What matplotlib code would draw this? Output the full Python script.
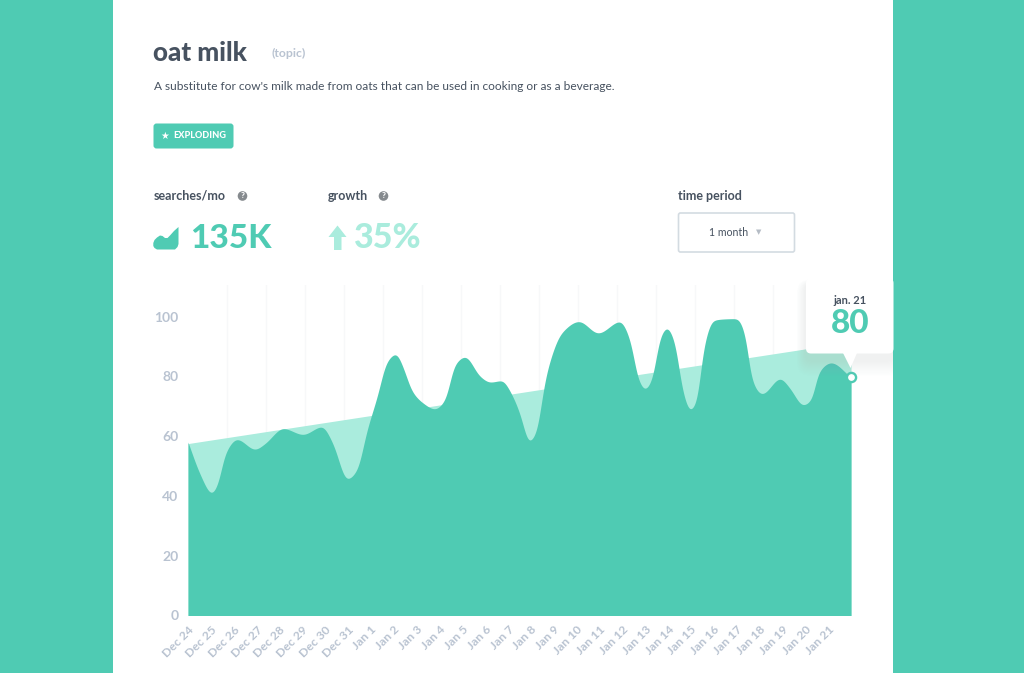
import numpy as np
import matplotlib
matplotlib.use("Agg")
import matplotlib.pyplot as plt
from matplotlib.patches import FancyBboxPatch, Polygon, Circle, Rectangle

plt.rcParams['font.family'] = ['Lato', 'DejaVu Sans']

# ---------- data ----------
day_labels = ["Dec 24","Dec 25","Dec 26","Dec 27","Dec 28","Dec 29","Dec 30","Dec 31",
              "Jan 1","Jan 2","Jan 3","Jan 4","Jan 5","Jan 6","Jan 7","Jan 8","Jan 9",
              "Jan 10","Jan 11","Jan 12","Jan 13","Jan 14","Jan 15","Jan 16","Jan 17",
              "Jan 18","Jan 19","Jan 20","Jan 21"]
y_ticks = [0, 20, 40, 60, 80, 100]
interest_days = [0.0,0.52,1.04,1.31,1.62,2.14,2.93,3.37,4.16,5.03,5.86,6.34,6.96,7.39,7.83,
                 8.27,8.71,9.10,9.41,9.80,10.24,10.80,11.24,11.68,12.12,12.77,13.21,13.74,
                 14.09,14.52,14.92,15.27,15.53,15.75,16.36,17.10,17.94,18.90,19.34,19.69,
                 19.99,20.30,20.65,20.95,21.30,21.61,21.96,22.27,22.53,22.97,23.49,24.02,
                 24.45,24.58,25.11,25.90,26.33,26.90,27.30,27.56,28.13,29.0]
interest = [58,47.4,40.7,44,54,59,55.5,57.5,62.6,60.5,63.2,57.5,45.5,48.5,62,
            73,85,87.6,83,75,71.3,69,72,84,86.6,80,78,78.6,
            75,67.5,58,62,75,83,94.7,98.4,94.4,98.4,92,79,
            75.5,79,93,96.4,91,76,68.5,72,88.6,98.7,99.2,99.3,
            91,81,74,79.3,76,70.3,72.5,81,84.6,79.6]
trend_days = [0.0, 29.0]
trend = [57.5, 91.5]
last_value = 80
tooltip_date = "jan. 21"

TEAL = "#4fcbb3"
LIGHT = "#aaecdd"
DARK = "#475260"
AXIS = "#b9c3d1"

def smooth(x, y, n=2900, sigma=0.11):
    """Monotone cubic Hermite through the read points, then a light Gaussian rounding."""
    x, y = np.asarray(x, float), np.asarray(y, float)
    h = np.diff(x)
    d = np.diff(y) / h
    m = np.zeros_like(y)
    m[0], m[-1] = d[0], d[-1]
    for i in range(1, len(x) - 1):
        if d[i-1] * d[i] > 0:
            w1 = 2*h[i] + h[i-1]
            w2 = h[i] + 2*h[i-1]
            m[i] = (w1 + w2) / (w1/d[i-1] + w2/d[i])
    xs = np.linspace(x[0], x[-1], n)
    k = np.clip(np.searchsorted(x, xs) - 1, 0, len(h) - 1)
    t = (xs - x[k]) / h[k]
    ys = ((2*t**3 - 3*t**2 + 1)*y[k] + (t**3 - 2*t**2 + t)*h[k]*m[k]
          + (-2*t**3 + 3*t**2)*y[k+1] + (t**3 - t**2)*h[k]*m[k+1])
    step = xs[1] - xs[0]
    r = int(4 * sigma / step)
    kern = np.exp(-0.5 * (np.arange(-r, r + 1) * step / sigma) ** 2)
    kern /= kern.sum()
    ys = np.convolve(np.pad(ys, r, mode="reflect", reflect_type="odd"), kern, mode="valid")
    return xs, ys

W, H = 1024, 673
fig = plt.figure(figsize=(W/100, H/100), dpi=100, facecolor=TEAL)

def overlay(z):
    a = fig.add_axes([0, 0, 1, 1], zorder=z)
    a.set_xlim(0, W); a.set_ylim(H, 0); a.axis("off"); a.patch.set_alpha(0)
    return a

bg = overlay(0)
fg = overlay(2)

# card
bg.add_patch(FancyBboxPatch((113, -40), 780, 760, boxstyle="round,pad=0,rounding_size=14",
                            fc="white", ec="none"))
# header
bg.text(153, 53, "oat milk", fontsize=18.7, weight="black", color=DARK, va="center", ha="left")
bg.text(271, 53, "(topic)", fontsize=8.8, weight="bold", color=AXIS, va="center", ha="left")
bg.text(153.5, 86.5, "A substitute for cow's milk made from oats that can be used in cooking or as a beverage.",
        fontsize=8.55, color=DARK, va="center", ha="left")
# badge
bg.add_patch(FancyBboxPatch((153.5, 123.5), 80, 25, boxstyle="round,pad=0,rounding_size=3",
                            fc=TEAL, ec="none"))
bg.text(164.5, 136, "★", fontsize=7, color="white", va="center", ha="center", family="DejaVu Sans")
bg.text(173.5, 135.5, "EXPLODING", fontsize=6.6, weight="black", color="white", va="center", ha="left")
# metric labels
for x, s in [(153.5, "searches/mo"), (328, "growth"), (678, "time period")]:
    bg.text(x, 196, s, fontsize=9, weight="bold", color=DARK, va="center", ha="left")
for x in [242.5, 383.5]:
    bg.add_patch(Circle((x, 196), 4.8, fc="#858a8e", ec="none"))
    bg.text(x, 196, "?", fontsize=6, weight="black", color="white", va="center", ha="center")
# icons
bg.add_patch(Polygon([(153.3,243),(154.5,240),(157,237.5),(160,235.5),(162.5,236),(165,238),(167.5,238),
                      (170,235.5),(174,231),(178.5,227),(178.5,244),(177.5,247),(175,249.5),
                      (157,249.5),(154.5,248),(153.3,246)], closed=True, fc=TEAL, ec="none"))
bg.add_patch(Polygon([(337.5,225.5),(346.5,237),(341.5,237),(341.5,250),(334,250),(334,237),(328.5,237)],
                     closed=True, fc=LIGHT, ec="none"))
bg.text(190, 238, "135K", fontsize=24, weight="black", color=TEAL, va="center", ha="left")
bg.text(353.5, 238, "35%", fontsize=24.5, weight="black", color=LIGHT, va="center", ha="left")
# dropdown
bg.add_patch(FancyBboxPatch((678.5, 213), 116, 39, boxstyle="round,pad=0,rounding_size=2",
                            fc="white", ec="#d3dbe1", lw=1.2))
bg.text(729, 232, "1 month", fontsize=7.6, color=DARK, va="center", ha="center")
bg.text(759, 232, "▼", fontsize=5, color="#b5bcc5", va="center", ha="center", family="DejaVu Sans")

# ---------- chart ----------
L, R, T, B = 188, 851, 285, 615.5
ax = fig.add_axes([L/W, 1 - B/H, (R-L)/W, (B-T)/H], zorder=1)
ax.patch.set_alpha(0)
ax.set_xlim(0, 29)
ax.set_ylim(0, (B-T)/2.99)
for s in ax.spines.values():
    s.set_visible(False)

ax.set_xticks(np.linspace(0, 29, 18), minor=True)
ax.grid(True, which="minor", axis="x", color="#f7f8f9", lw=1, zorder=0)
ax.tick_params(which="minor", length=0)

ax.fill_between(trend_days, 0, trend, color=LIGHT, lw=0, zorder=2)
xs, ys = smooth(interest_days, interest)
ax.fill_between(xs, 0, ys, color=TEAL, lw=0, zorder=3)

ax.set_xticks(range(len(day_labels)))
ax.set_xticklabels(day_labels, rotation=45, ha="right", rotation_mode="anchor",
                   fontsize=8.7, color=AXIS, weight="bold")
ax.set_yticks(y_ticks)
ax.set_yticklabels([str(v) for v in y_ticks], fontsize=10, color=AXIS, weight="bold")
ax.tick_params(axis="x", which="major", length=0, pad=6)
ax.tick_params(axis="y", which="major", length=0, pad=7)

ax.plot([29], [interest[-1]], "o", ms=6.6, mfc="white", mec=TEAL, mew=1.7, clip_on=False, zorder=6)

# ---------- tooltip ----------
clip = Rectangle((113, 0), 780, H, transform=fg.transData)
for i in range(14):
    g = 15 - i
    p = FancyBboxPatch((806 - g*.6, 278 + 6 - g*.3), 87 + g*1.2, 75 + g*1.4,
                       boxstyle="round,pad=0,rounding_size=%g" % (6 + g*.5),
                       fc="#a9b8bc", ec="none", alpha=0.012)
    fg.add_patch(p)
    p.set_clip_path(clip)
fg.add_patch(FancyBboxPatch((806, 278), 87.5, 75.5, boxstyle="round,pad=0,rounding_size=5",
                            fc="white", ec="none"))
fg.add_patch(Polygon([(843, 353), (857, 353), (850.5, 368)], closed=True, fc="white", ec="none"))
fg.text(850, 300, tooltip_date, fontsize=8, weight="bold", color=DARK, va="center", ha="center")
fg.text(850, 323.5, str(last_value), fontsize=24, weight="black", color=TEAL, va="center", ha="center")

fig.savefig("out.png", dpi=100, facecolor=TEAL)
